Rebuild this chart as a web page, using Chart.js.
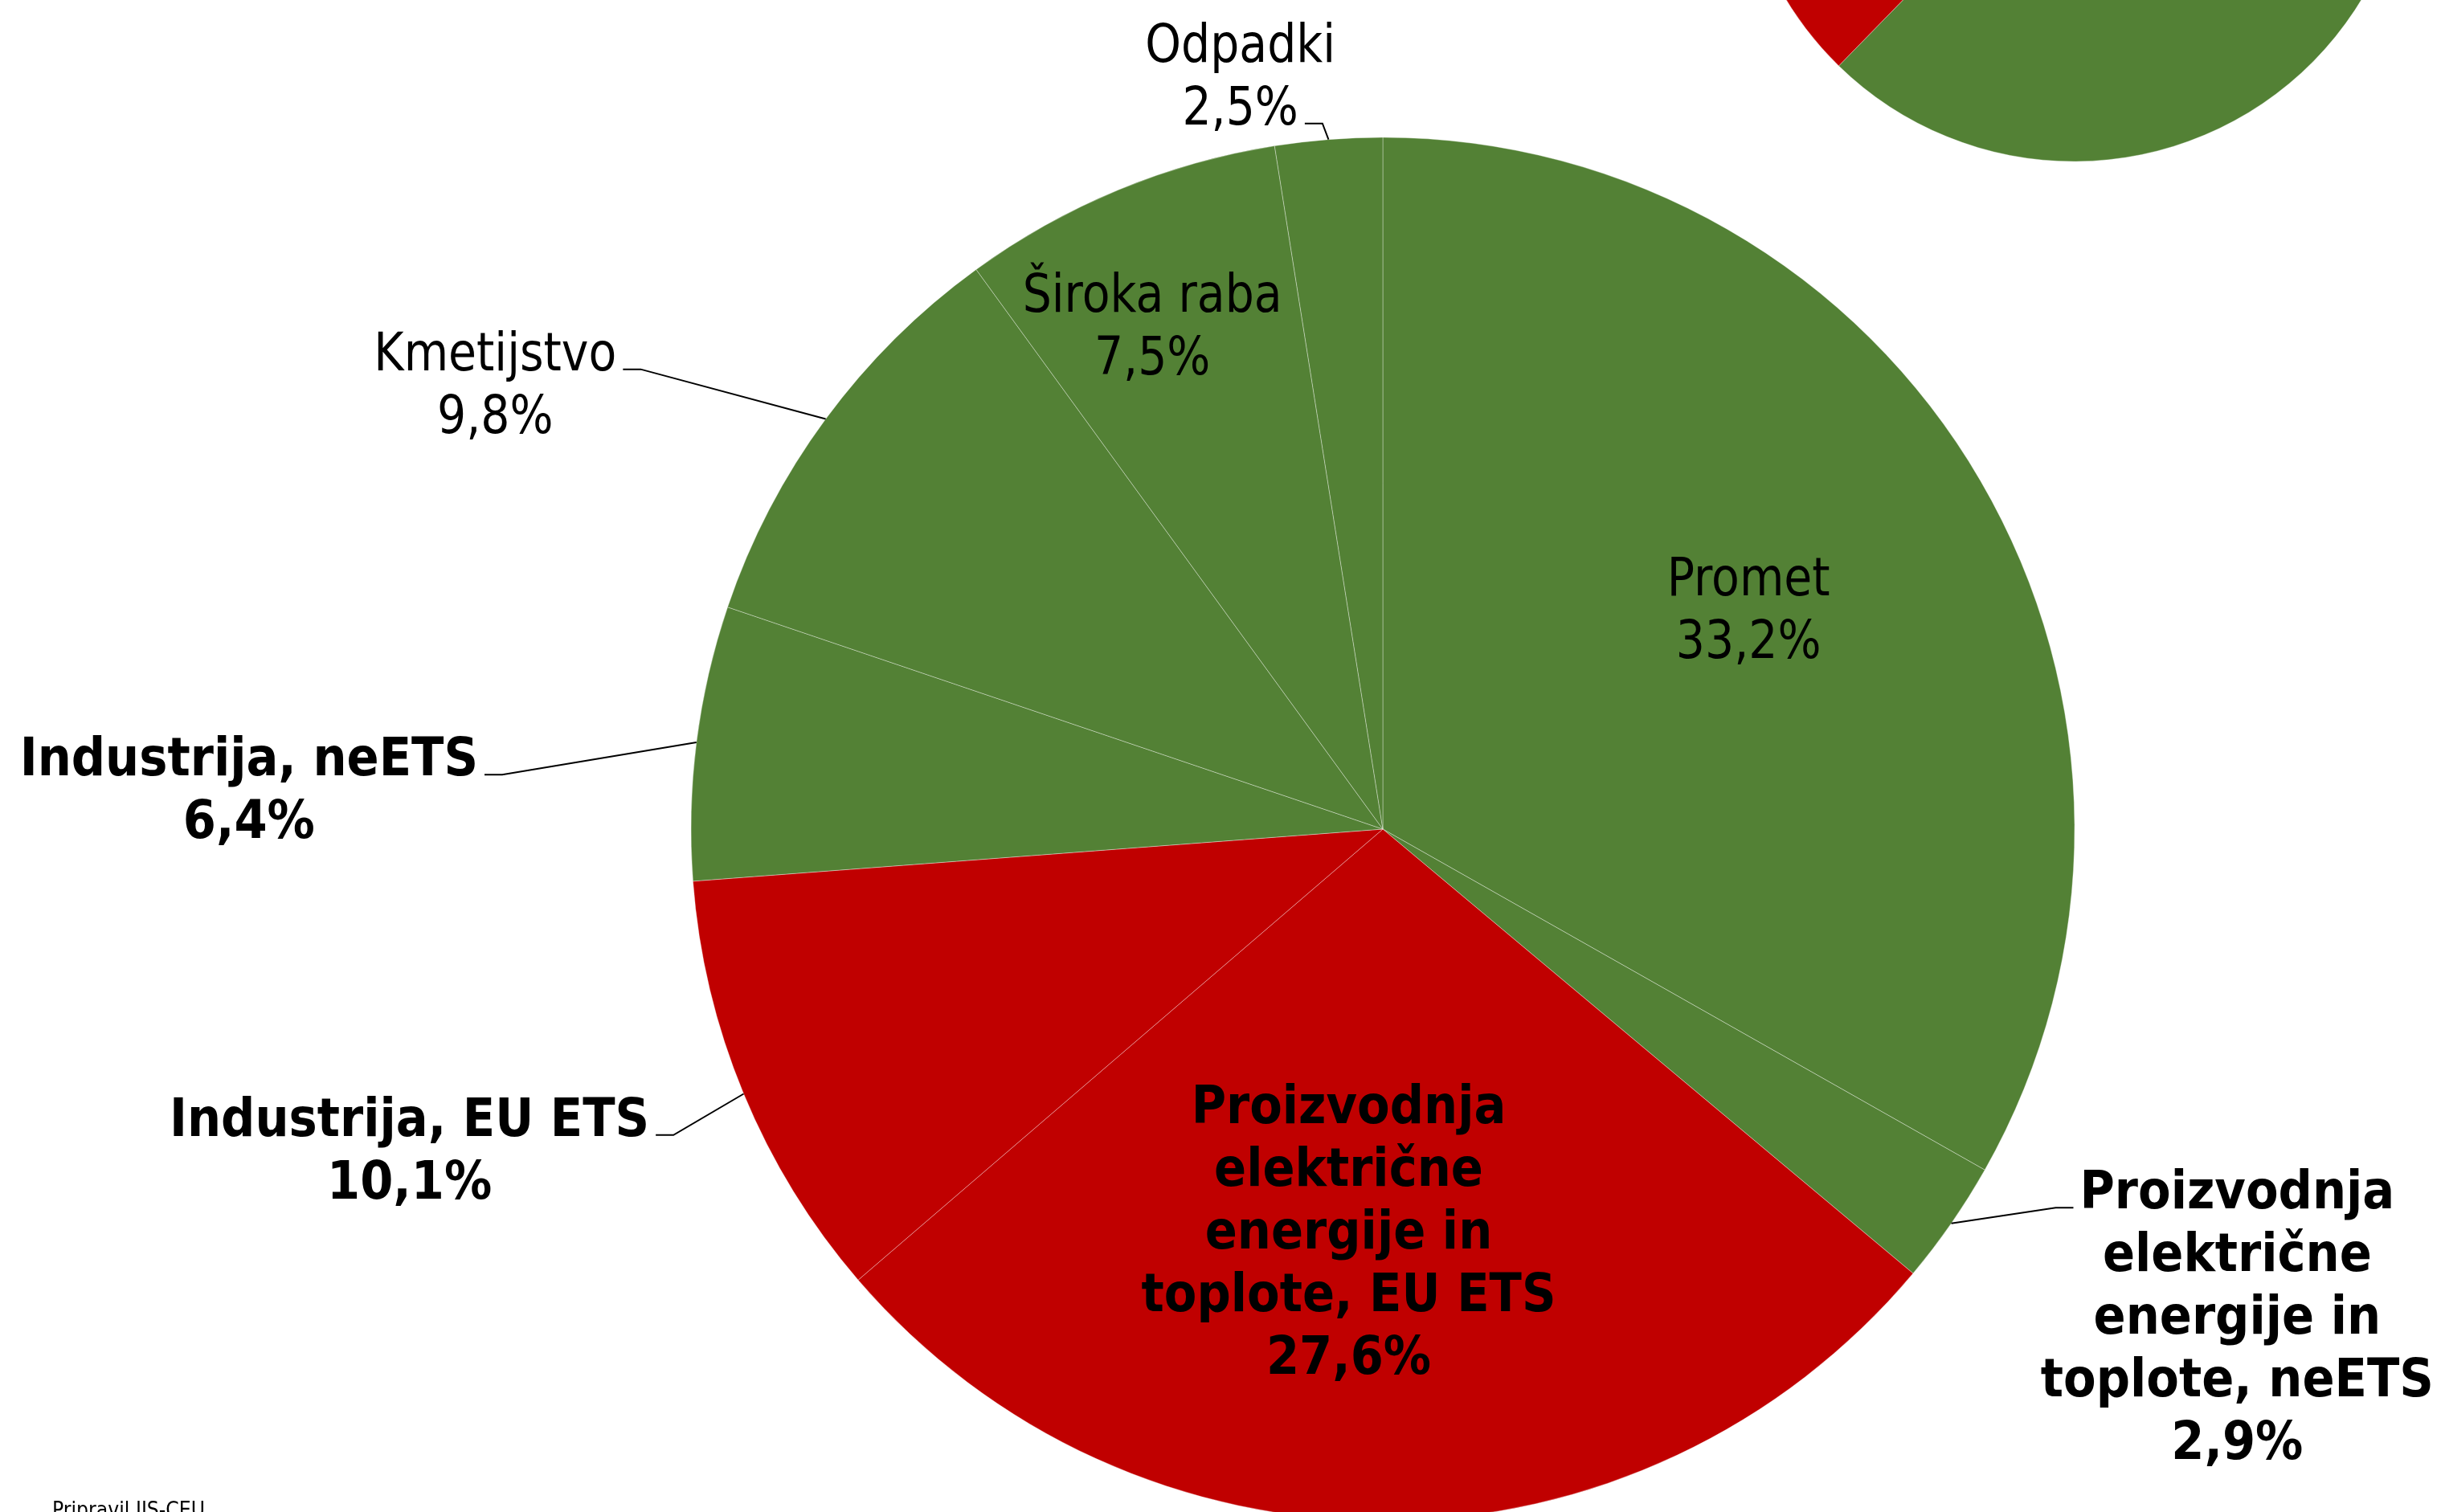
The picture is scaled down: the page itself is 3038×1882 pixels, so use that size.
<!DOCTYPE html>
<html>
<head>
<meta charset="utf-8">
<script src="https://cdn.jsdelivr.net/npm/chart.js@4.4.1/dist/chart.umd.min.js"></script>
<style>
    html, body { margin: 0; padding: 0; width: 3038px; height: 1882px; overflow: hidden; background: #fff; }
    #mainChart { position: absolute; left: 0; top: 0; }
    #insetChart { position: absolute; left: 2151px; top: -648px; }
</style>
</head>
<body>
<canvas id="mainChart" width="3038" height="1950"></canvas>
<canvas id="insetChart" width="860" height="860"></canvas>
<script>
// Sector shares of emissions (%), clockwise from 12 o'clock
const sectors = [
    'Promet',
    'Proizvodnja električne energije in toplote, neETS',
    'Proizvodnja električne energije in toplote, EU ETS',
    'Industrija, EU ETS',
    'Industrija, neETS',
    'Kmetijstvo',
    'Široka raba',
    'Odpadki'
];
const shares = [33.2, 2.9, 27.6, 10.1, 6.4, 9.8, 7.5, 2.5];

// label text as it is broken into lines on the chart
const labelLines = [
    ['Promet'],
    ['Proizvodnja', 'električne', 'energije in', 'toplote, neETS'],
    ['Proizvodnja', 'električne', 'energije in', 'toplote, EU ETS'],
    ['Industrija, EU ETS'],
    ['Industrija, neETS'],
    ['Kmetijstvo'],
    ['Široka raba'],
    ['Odpadki']
];

// small inset pie: neETS vs EU ETS
const schemes = ['neETS', 'EU ETS'];
const schemeShares = [62.3, 37.7];

const GREEN = '#538135';
const RED = '#C00000';
const sectorColors = [GREEN, GREEN, RED, RED, GREEN, GREEN, GREEN, GREEN];
const schemeColors = [GREEN, RED];

// where each label goes (in units of the pie radius)
const labelLayout = [
    { inside: true, f: 0.62, sx: -0.007, sy: -0.007, bold: false },
    { inside: false, dx: 1.235, dy: 0.703, side: 'left', line: 0, bold: true },
    { inside: true, f: 0.58, sx: -0.053, sy: 0, bold: true },
    { inside: false, dx: -1.407, dy: 0.462, side: 'right', line: 0, bold: true },
    { inside: false, dx: -1.639, dy: -0.059, side: 'right', line: 0, bold: true },
    { inside: false, dx: -1.283, dy: -0.645, side: 'right', line: 0, bold: false },
    { inside: true, f: 0.80, sx: -0.027, sy: 0.010, bold: false },
    { inside: false, dx: -0.206, dy: -1.091, side: 'right', line: -1, bold: false }
];

const FONT_SIZE = 65;
const LINE_H = 78;
const TEXT_DROP = 6;
// narrows DejaVu towards Tahoma widths
const SQUEEZE = { regular: 0.875, bold: 0.91 };

function fmt(v) {
    return v.toFixed(1).replace('.', ',') + '%';
}

function fontFor(bold, size) {
    return (bold ? 'bold ' : '') + size + 'px "DejaVu Sans", Verdana, sans-serif';
}

function squeezedText(ctx, text, x, y, sq) {
    ctx.save();
    ctx.translate(x, y);
    ctx.scale(sq, 1);
    ctx.fillText(text, 0, 0);
    ctx.restore();
}

const pieLabels = {
    id: 'pieLabels',
    afterDatasetsDraw(chart) {
        const ctx = chart.ctx;
        const arcs = chart.getDatasetMeta(0).data;
        ctx.save();
        ctx.fillStyle = '#000';
        ctx.strokeStyle = '#000';
        ctx.lineWidth = 2;
        ctx.textBaseline = 'middle';
        ctx.textAlign = 'center';

        arcs.forEach((arc, i) => {
            const lay = labelLayout[i];
            const R = arc.outerRadius;
            const mid = (arc.startAngle + arc.endAngle) / 2;
            const lines = labelLines[i].concat([fmt(shares[i])]);
            const sq = lay.bold ? SQUEEZE.bold : SQUEEZE.regular;
            ctx.font = fontFor(lay.bold, FONT_SIZE);

            let cx, cy;
            if (lay.inside) {
                cx = arc.x + Math.cos(mid) * R * lay.f + lay.sx * R;
                cy = arc.y + Math.sin(mid) * R * lay.f + lay.sy * R;
            } else {
                cx = arc.x + lay.dx * R;
                cy = arc.y + lay.dy * R;
            }
            const top = cy - (lines.length - 1) * LINE_H / 2 + TEXT_DROP;
            lines.forEach((t, k) => squeezedText(ctx, t, cx, top + k * LINE_H, sq));

            if (!lay.inside) {
                const li = lay.line < 0 ? lines.length + lay.line : lay.line;
                const w = ctx.measureText(lines[li]).width * sq;
                const ly = top + li * LINE_H + 16;
                const dir = lay.side === 'right' ? 1 : -1;
                const endX = cx + dir * (w / 2 + 8);
                const elbowX = endX + dir * 22;
                ctx.beginPath();
                ctx.moveTo(arc.x + Math.cos(mid) * R, arc.y + Math.sin(mid) * R);
                ctx.lineTo(elbowX, ly);
                ctx.lineTo(endX, ly);
                ctx.stroke();
            }
        });

        // source note, partly below the visible area
        ctx.textAlign = 'left';
        ctx.textBaseline = 'alphabetic';
        ctx.font = fontFor(false, 27);
        squeezedText(ctx, 'Pripravil IJS-CEU', 65, 1888, SQUEEZE.regular);
        ctx.restore();
    }
};

new Chart(document.getElementById('mainChart'), {
    type: 'pie',
    data: {
        labels: sectors,
        datasets: [{
            data: shares,
            backgroundColor: sectorColors,
            borderColor: 'rgba(255,255,255,0.35)',
            borderWidth: 1
        }]
    },
    options: {
        responsive: false,
        animation: false,
        devicePixelRatio: 1,
        events: [],
        radius: 861,
        layout: { padding: { left: 404, right: 0, top: 114, bottom: 0 } },
        plugins: {
            legend: { display: false },
            tooltip: { enabled: false }
        }
    },
    plugins: [pieLabels]
});

new Chart(document.getElementById('insetChart'), {
    type: 'pie',
    data: {
        labels: schemes,
        datasets: [{
            data: schemeShares,
            backgroundColor: schemeColors,
            borderColor: 'rgba(255,255,255,0.35)',
            borderWidth: 1
        }]
    },
    options: {
        responsive: false,
        animation: false,
        devicePixelRatio: 1,
        events: [],
        radius: 419,
        layout: { padding: 0 },
        plugins: {
            legend: { display: false },
            tooltip: { enabled: false }
        }
    }
});
</script>
</body>
</html>
